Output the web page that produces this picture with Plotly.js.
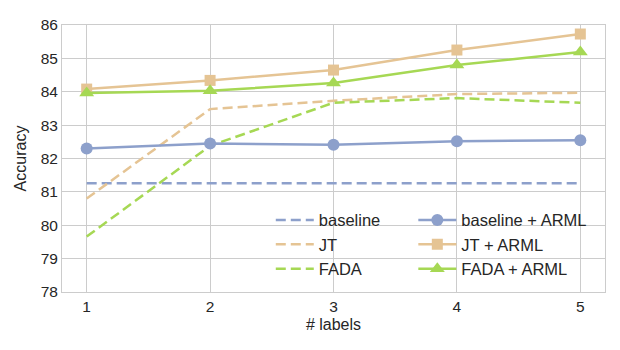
<!DOCTYPE html>
<html>
<head>
<meta charset="utf-8">
<script src="https://cdn.plot.ly/plotly-3.0.1.min.js"></script>
<style>body{margin:0;background:#fff}</style>
</head>
<body>
<div id="plot" style="width:620px;height:350px"></div>
<script>
// number of labels
const labels = [1, 2, 3, 4, 5];

const baseline = [81.26, 81.26, 81.26, 81.26, 81.26];
const jt = [80.8, 83.48, 83.73, 83.93, 83.97];
const fada = [79.66, 82.38, 83.67, 83.81, 83.67];
const baselineArml = [82.3, 82.45, 82.41, 82.52, 82.55];
const jtArml = [84.08, 84.34, 84.65, 85.25, 85.73];
const fadaArml = [83.96, 84.03, 84.26, 84.8, 85.19];

const blue = '#8da0cb', orange = '#e5c494', green = '#a6d854';
const dash = '10px,5px';

function dashed(name, y, color) {
    return {x: labels, y: y, name: name, type: 'scatter', mode: 'lines',
        line: {color: color, width: 2.5, dash: dash}, legend: 'legend'};
}
function solid(name, y, color, symbol, size) {
    return {x: labels, y: y, name: name, type: 'scatter', mode: 'lines+markers',
        line: {color: color, width: 2.5},
        marker: {color: color, symbol: symbol, size: size}, legend: 'legend2'};
}

const data = [
    dashed('baseline', baseline, blue),
    dashed('JT', jt, orange),
    dashed('FADA', fada, green),
    solid('baseline + ARML', baselineArml, blue, 'circle', 12),
    solid('JT + ARML', jtArml, orange, 'square', 11),
    solid('FADA + ARML', fadaArml, green, 'triangle-up', 13)
];

const axisStyle = {
    showgrid: true, gridcolor: '#cccccc', gridwidth: 1,
    showline: true, linecolor: '#cccccc', linewidth: 1, mirror: true,
    zeroline: false, ticks: '',
    tickfont: {size: 15.5, color: '#262626'}
};

const legendStyle = {
    xanchor: 'left', yanchor: 'bottom', y: 0.02,
    bgcolor: 'rgba(0,0,0,0)', font: {size: 16.5, color: '#262626'},
    traceorder: 'normal', tracegroupgap: 0, itemwidth: 38
};

const layout = {
    width: 620, height: 350,
    margin: {l: 62, r: 15, t: 25, b: 58},
    paper_bgcolor: '#ffffff', plot_bgcolor: '#ffffff',
    font: {family: 'Liberation Sans, Arial, sans-serif', color: '#262626'},
    xaxis: Object.assign({}, axisStyle, {
        range: [0.8, 5.2], tickvals: labels,
        title: {text: '# labels', font: {size: 16, color: '#262626'}, standoff: 5}
    }),
    yaxis: Object.assign({}, axisStyle, {
        range: [78, 86], dtick: 1,
        title: {text: 'Accuracy', font: {size: 16, color: '#262626'}, standoff: 10}
    }),
    showlegend: true,
    legend: Object.assign({}, legendStyle, {x: 0.3845}),
    legend2: Object.assign({}, legendStyle, {x: 0.647})
};

Plotly.newPlot('plot', data, layout, {displayModeBar: false});
</script>
</body>
</html>
